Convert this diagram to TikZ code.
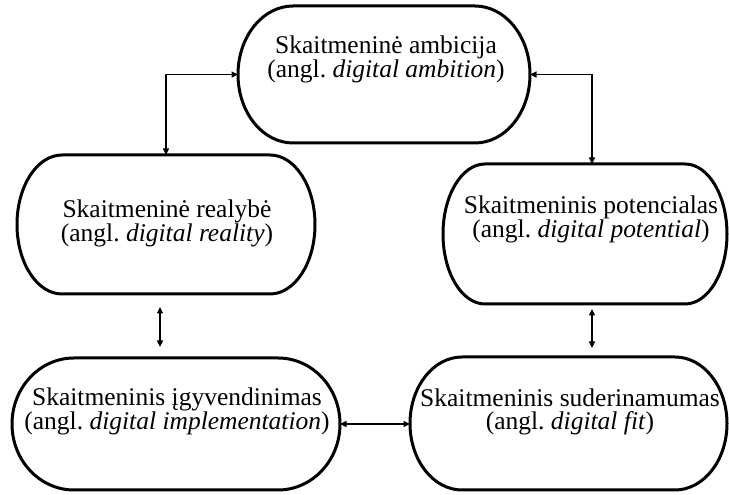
\documentclass[tikz,border=0pt]{standalone}
\usepackage{fontspec}
\setmainfont{Liberation Serif}
\usetikzlibrary{arrows.meta}
\tikzset{
  boxnode/.style={rectangle, inner sep=0pt, outer sep=0pt},
  pilloutline/.style={line width=3pt, line join=round},
  boxtext/.style={anchor=base, align=center, inner sep=0pt, font=\fontsize{25.5}{23}\selectfont},
  conn/.style={line width=1.4pt, {Triangle[length=6.5pt,width=6pt]}-{Triangle[length=6.5pt,width=6pt]}}
}
% name, cx, cy, w, h, rx
\newcommand{\pillbox}[6]{%
  \node[boxnode, minimum width=#4pt, minimum height=#5pt] (#1) at (#2,#3) {};
  \draw[pilloutline] ([xshift=#6pt]#1.north west) -- ([xshift=-#6pt]#1.north east)
     arc[start angle=90, end angle=-90, x radius=#6pt, y radius=#5pt/2]
     -- ([xshift=#6pt]#1.south west)
     arc[start angle=270, end angle=90, x radius=#6pt, y radius=#5pt/2] -- cycle;
}
\begin{document}
\begin{tikzpicture}[x=1pt,y=1pt]
\useasboundingbox (0,0) rectangle (729,495);
\pillbox{A}{384}{420.5}{292}{137}{55}
\pillbox{B}{166}{270.5}{298}{139}{45}
\pillbox{C}{585}{261}{284}{140}{42}
\pillbox{D}{176}{71}{328}{132}{62}
\pillbox{E}{568.5}{71.5}{317}{133}{52}

% base anchor of a two-line node lies on its last line
\node[boxtext] (tA) at (386,417) {Skaitmeninė ambicija\\(angl.\ \textit{digital ambition})};
\node[boxtext] (tB) at (167,253) {Skaitmeninė realybė\\(angl.\ \textit{digital reality})};
\node[boxtext] (tC) at (591,257) {Skaitmeninis potencialas\\(angl.\ \textit{digital potential})};
\node[boxtext] (tD) at (177,65) {Skaitmeninis įgyvendinimas\\(angl.\ \textit{digital implementation})};
\node[boxtext] (tE) at (570,65) {Skaitmeninis suderinamumas\\(angl.\ \textit{digital fit})};

\draw[conn] (A.west) -| (B.north);
\draw[conn] (A.east) -| ([xshift=7pt]C.north);
\draw[conn] ([xshift=-6pt,yshift=-13pt]B.south) -- ([xshift=-16pt,yshift=11pt]D.north);
\draw[conn] ([xshift=7pt,yshift=-5pt]C.south) -- ([xshift=23.5pt,yshift=9pt]E.north);
\draw[conn] (D.east) -- (D.east -| E.west);
\end{tikzpicture}
\end{document}
